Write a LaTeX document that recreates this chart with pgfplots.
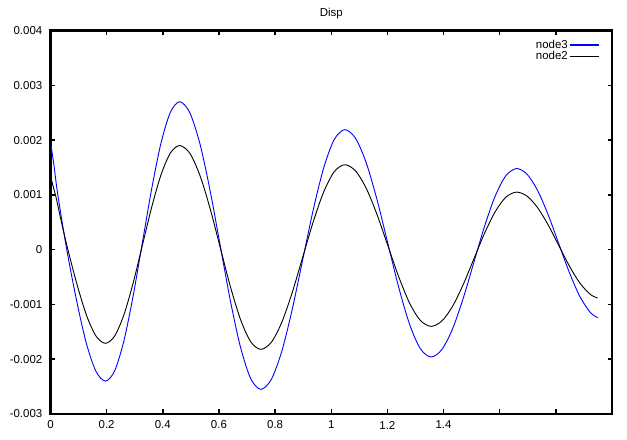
\documentclass[border=0pt]{standalone}
\usepackage{pgfplots}
\pgfplotsset{compat=1.18}
\usepackage{fontspec}
\setmainfont{Liberation Sans}
\begin{document}
\begin{tikzpicture}
\begin{axis}[
  at={(0,0)}, anchor=south west,
  scale only axis, width=561.5bp, height=383.5bp,
  xmin=0, xmax=2, ymin=-0.003, ymax=0.004,
  xtick={0,0.2,0.4,0.6,0.8,1,1.2,1.4,1.6,1.8,2},
  xticklabels={0,0.2,0.4,0.6,0.8,1,1.2,1.4,{},{},{}},
  ytick={-0.003,-0.002,-0.001,0,0.001,0.002,0.003,0.004},
  yticklabels={-0.003,-0.002,-0.001,0,0.001,0.002,0.003,0.004},
  scaled y ticks=false, scaled x ticks=false,
  line width=2.5bp,
  tick align=inside, major tick length=4.5bp,
  tick style={line width=1.5bp, black},
  axis line style={line width=2.5bp, black},
  axis background/.style={draw=black, line width=2.5bp, line cap=rect},
  ticklabel style={font=\fontsize{11.5}{12}\selectfont},
  xticklabel style={anchor=center, inner sep=0pt, yshift=-11bp},
  yticklabel style={anchor=east, inner sep=0pt, xshift=-7bp},
  title={Disp},
  title style={at={(0.5,1)}, anchor=center, yshift=11bp, inner sep=0pt, font=\fontsize{11.5}{12}\selectfont},
  legend plot pos=right,
  legend cell align=right,
  legend style={at={(1,1)}, anchor=north east, xshift=-11bp, yshift=-7bp,
    draw=none, fill=none, inner sep=0pt, row sep=-1bp,
    font=\fontsize{11.5}{11}\selectfont, nodes={inner sep=1.3bp},
    /tikz/every even column/.append style={column sep=4bp}},
]
\addplot[blue, line width=0.9bp, smooth,
  legend image code/.code={\draw[blue, line width=1.6bp] (0bp,0bp) -- (29bp,0bp);}] coordinates {
(0,0.00196) (0.012,0.00155) (0.026,0.00100) (0.058,0.0)
(0.0925,-0.000918) (0.127,-0.001697) (0.1615,-0.002217) (0.196,-0.0024)
(0.229,-0.002206) (0.262,-0.001653) (0.295,-0.000827) (0.328,0.00015)
(0.361,0.001127) (0.394,0.001953) (0.427,0.002506) (0.46,0.0027)
(0.4961,0.002501) (0.5323,0.001931) (0.5684,0.00108) (0.6045,0.000075)
(0.6406,-0.00093) (0.6768,-0.001781) (0.7129,-0.002351) (0.749,-0.00255)
(0.7864,-0.00237) (0.8238,-0.001856) (0.8611,-0.001088) (0.8985,-0.00018)
(0.9359,0.000728) (0.9733,0.001496) (1.0106,0.00201) (1.048,0.00219)
(1.0864,0.002032) (1.1248,0.001582) (1.1631,0.00091) (1.2015,0.000115)
(1.2399,-0.00068) (1.2783,-0.001352) (1.3166,-0.001802) (1.355,-0.00196)
(1.3931,-0.001829) (1.4313,-0.001456) (1.4694,-0.000899) (1.5075,-0.00024)
(1.5456,0.000419) (1.5838,0.000976) (1.6219,0.001349) (1.66,0.00148)
(1.6975,0.001376) (1.735,0.00108) (1.7725,0.000638) (1.81,0.000115)
(1.8475,-0.000408) (1.885,-0.00085) (1.9225,-0.001146) (1.949,-0.001241)
};
\addlegendentry{node3}
\addplot[black, line width=0.9bp, smooth,
  legend image code/.code={\draw[black, line width=1.2bp] (0bp,0bp) -- (29bp,0bp);}] coordinates {
(0,0.00135) (0.008,0.00118) (0.02,0.00095) (0.04,0.00048) (0.062,0.0)
(0.0955,-0.000655) (0.129,-0.001209) (0.1625,-0.00158) (0.196,-0.00171)
(0.229,-0.001573) (0.262,-0.001181) (0.295,-0.000596) (0.328,0.000095)
(0.361,0.000786) (0.394,0.001371) (0.427,0.001763) (0.46,0.0019)
(0.4961,0.001759) (0.5323,0.001355) (0.5684,0.000752) (0.6045,0.00004)
(0.6406,-0.000672) (0.6768,-0.001275) (0.7129,-0.001679) (0.749,-0.00182)
(0.7864,-0.001692) (0.8238,-0.001326) (0.8611,-0.00078) (0.8985,-0.000135)
(0.9359,0.00051) (0.9733,0.001056) (1.0106,0.001422) (1.048,0.00155)
(1.0864,0.001438) (1.1248,0.001118) (1.1631,0.00064) (1.2015,0.000075)
(1.2399,-0.00049) (1.2783,-0.000968) (1.3166,-0.001288) (1.355,-0.0014)
(1.3931,-0.001307) (1.4313,-0.001041) (1.4694,-0.000644) (1.5075,-0.000175)
(1.5456,0.000294) (1.5838,0.000691) (1.6219,0.000957) (1.66,0.00105)
(1.6975,0.000976) (1.735,0.000766) (1.7725,0.000452) (1.81,0.00008)
(1.8475,-0.000292) (1.885,-0.000606) (1.9225,-0.000816) (1.949,-0.000884)
};
\addlegendentry{node2}
\end{axis}
\pgfresetboundingbox
\path[use as bounding box] (-50.5bp,-26bp) rectangle (576.5bp,414bp);
\end{tikzpicture}
\end{document}
